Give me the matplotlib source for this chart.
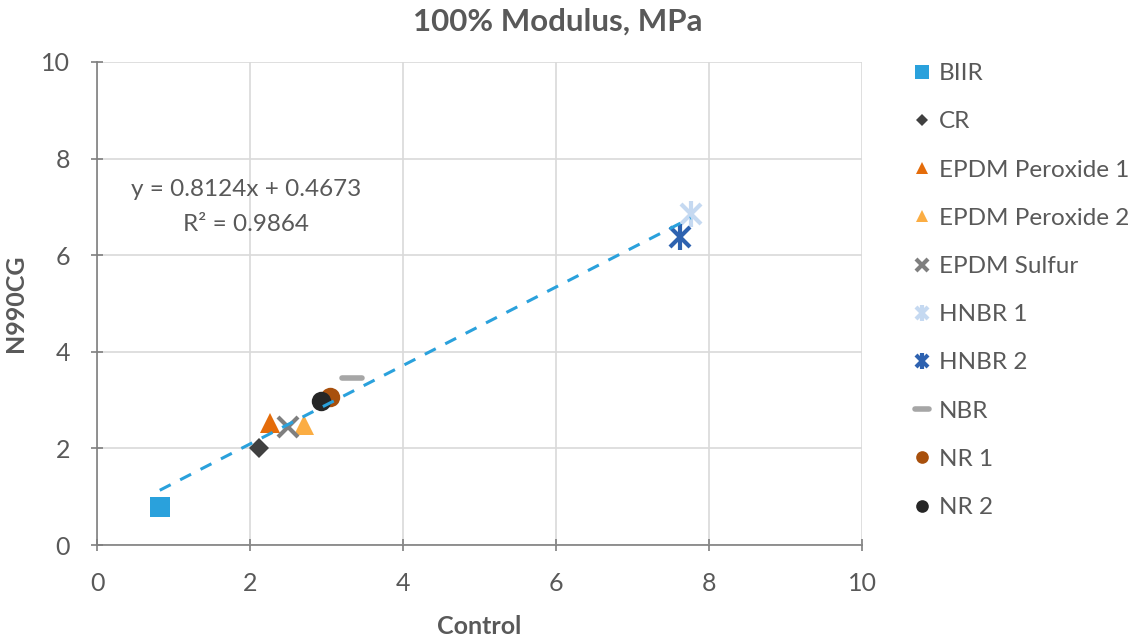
import matplotlib.pyplot as plt
import numpy as np
from matplotlib.markers import MarkerStyle

plt.rcParams['font.family'] = ['Lato', 'DejaVu Sans']

# 100% modulus (MPa): control compound vs N990CG compound
names = ['BIIR', 'CR', 'EPDM Peroxide 1', 'EPDM Peroxide 2', 'EPDM Sulfur',
         'HNBR 1', 'HNBR 2', 'NBR', 'NR 1', 'NR 2']
control = [0.82, 2.12, 2.26, 2.71, 2.50, 7.76, 7.62, 3.33, 3.04, 2.93]
n990cg = [0.79, 2.00, 2.52, 2.48, 2.45, 6.85, 6.37, 3.45, 3.06, 2.99]

# linear trendline
slope = 0.8124
intercept = 0.4673
r2 = 0.9864

grey = '#595959'
dash = MarkerStyle('_', capstyle='round')

styles = {
    'BIIR': dict(marker='s', color='#2aa1dc', ms=15),
    'CR': dict(marker='D', color='#404040', ms=10),
    'EPDM Peroxide 1': dict(marker='^', color='#e46c0a', ms=14),
    'EPDM Peroxide 2': dict(marker='^', color='#fbad43', ms=14),
    'EPDM Sulfur': dict(marker='x', color='#7f7f7f', ms=14, mew=3),
    'HNBR 1': dict(marker='star', color='#c5d9f1', ms=14, mew=3),
    'HNBR 2': dict(marker='star', color='#2e62b0', ms=14, mew=3),
    'NBR': dict(marker=dash, color='#a6a6a6', ms=15, mew=4),
    'NR 1': dict(marker='o', color='#a8500d', ms=14),
    'NR 2': dict(marker='o', color='#262626', ms=14),
}

fig = plt.figure(figsize=(11.43, 6.37), dpi=100)
ax = fig.add_axes([0.0849, 0.1444, 0.6693, 0.7583])

handles = []
for name, x, y in zip(names, control, n990cg):
    st = styles[name]
    c = st['color']
    mew = st.get('mew', 0)
    if st['marker'] == 'star':
        # asterisk = X with a vertical bar through it
        h1, = ax.plot([x], [y], linestyle='none', marker='x', color=c,
                      ms=st['ms'], mew=mew, zorder=3)
        h2, = ax.plot([x], [y], linestyle='none', marker='|', color=c,
                      ms=st['ms'] * 1.3, mew=mew, zorder=3)
        handles.append((h1, h2))
    else:
        h, = ax.plot([x], [y], linestyle='none', marker=st['marker'], color=c,
                     ms=st['ms'], mew=mew, mec=c, zorder=3)
        handles.append(h)

xs = np.array([min(control), max(control)])
ax.plot(xs, slope * xs + intercept, color='#2aa1dc', lw=2.2,
        dashes=(4, 3.5), zorder=4)

ax.text(1.95, 7.35, f'y = {slope}x + {intercept}', ha='center', va='center',
        fontsize=17.5, color=grey)
ax.text(1.95, 6.63, f'R² = {r2}', ha='center', va='center',
        fontsize=17.5, color=grey)

ax.set_xlim(0, 10)
ax.set_ylim(0, 10)
ax.set_xticks(np.arange(0, 11, 2))
ax.set_yticks(np.arange(0, 11, 2))
ax.grid(True, color='#d9d9d9', lw=1.2)
ax.set_axisbelow(True)
for s in ['top', 'right']:
    ax.spines[s].set_visible(False)
for s in ['left', 'bottom']:
    ax.spines[s].set_color('#7f7f7f')
    ax.spines[s].set_linewidth(1.2)
ax.tick_params(colors='#7f7f7f', labelcolor=grey, labelsize=18, length=9,
               width=1.2, direction='inout', pad=15)

ax.set_xlabel('Control', fontsize=18, fontweight='bold', color=grey, labelpad=14)
ax.set_ylabel('N990CG', fontsize=18, fontweight='bold', color=grey, labelpad=10)
fig.text(0.488, 0.966, '100% Modulus, MPa', ha='center', va='center',
         fontsize=22.5, fontweight='bold', color=grey)

leg = fig.legend(handles=handles, labels=names, loc='upper left',
                 bbox_to_anchor=(0.799, 0.901), frameon=False, fontsize=17.5,
                 markerscale=0.65, handlelength=0.75, handletextpad=0.3,
                 labelspacing=1.12, numpoints=1, borderaxespad=0, borderpad=0)
for t in leg.get_texts():
    t.set_color(grey)

fig.savefig('out.png', dpi=100)
